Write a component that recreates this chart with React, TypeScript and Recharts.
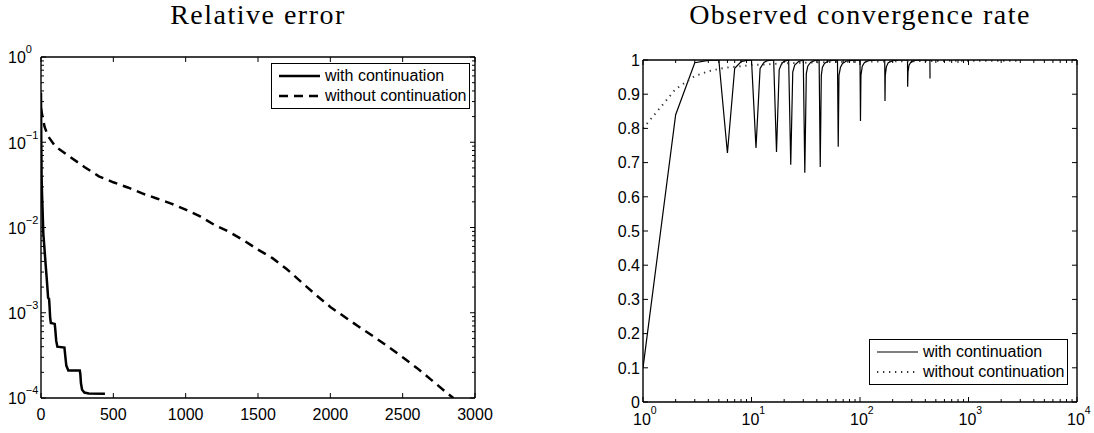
import React from 'react';
import { LineChart, Line, XAxis, YAxis, Legend } from 'recharts';

// left panel: relative error per iteration
const contIter = [0, 2, 4, 7, 10, 16, 22, 27, 33, 39, 44, 49, 56, 59, 63, 68, 95, 99, 105, 113, 162, 167, 175, 189, 268, 272, 276, 284, 300, 330, 442];
const contErr = [0.38, 0.1, 0.04, 0.025, 0.0178, 0.0085, 0.0063, 0.0048, 0.0035, 0.0026, 0.002, 0.0015, 0.00145, 0.0012, 0.00089, 0.00076, 0.00074, 0.00063, 0.00047, 0.0004, 0.00039, 0.00032, 0.00024, 0.00021, 0.00021, 0.00019, 0.00015, 0.000125, 0.000116, 0.000113, 0.000112];
const plainIter = [0, 10, 25, 50, 100, 200, 300, 400, 500, 600, 700, 800, 900, 1000, 1100, 1200, 1300, 1400, 1500, 1600, 1700, 1800, 1900, 2000, 2100, 2200, 2300, 2400, 2500, 2600, 2700, 2800, 2850];
const plainErr = [0.25, 0.2, 0.151, 0.117, 0.089, 0.0676, 0.0513, 0.0398, 0.0339, 0.0295, 0.0251, 0.0219, 0.0191, 0.0162, 0.0135, 0.0107, 0.0089, 0.0071, 0.0055, 0.00437, 0.00324, 0.00229, 0.00162, 0.00117, 0.00089, 0.00068, 0.000525, 0.0004, 0.0003, 0.000224, 0.000162, 0.000117, 0.0001];

// right panel: observed convergence rate (log x)
const rateK = [1, 2, 3, 4, 5, 6, 7, 8, 9, 10, 11, 12, 13, 14, 16, 17, 18, 19, 20, 22, 23, 24, 25, 27, 30, 31, 32, 33, 35, 38, 42, 43, 44, 45, 47, 51, 56, 62, 63, 64, 66, 69, 75, 85, 100, 101, 102, 105, 110, 120, 140, 169, 170, 171, 175, 182, 200, 230, 274, 275, 277, 283, 295, 320, 360, 441, 442];
const contRate = [0.1, 0.84, 0.992, 0.999, 1, 0.728, 0.976, 0.995, 0.999, 1, 0.743, 0.975, 0.993, 0.998, 1, 0.731, 0.972, 0.99, 0.996, 1, 0.694, 0.965, 0.985, 0.995, 1, 0.67, 0.96, 0.982, 0.993, 0.998, 1, 0.687, 0.955, 0.978, 0.99, 0.997, 0.999, 1, 0.746, 0.955, 0.978, 0.99, 0.997, 0.999, 1, 0.822, 0.955, 0.982, 0.993, 0.998, 1, 1, 0.88, 0.955, 0.98, 0.992, 0.998, 1, 1, 0.922, 0.965, 0.985, 0.994, 0.999, 1, 1, 0.946];
const plainK = [1, 2, 3, 4, 5, 6, 8, 10, 15, 20, 30, 50, 100, 200, 500, 1000, 2950];
const plainRate = [0.8, 0.915, 0.953, 0.967, 0.974, 0.978, 0.982, 0.985, 0.988, 0.99, 0.992, 0.994, 0.995, 0.996, 0.997, 0.998, 0.998];

const errXTicks = [0, 500, 1000, 1500, 2000, 2500, 3000];
const errYTicks = [1e-4, 1e-3, 1e-2, 1e-1, 1];
const rateXTicks = [1, 10, 100, 1000, 10000];
const rateYTicks = [0, 0.1, 0.2, 0.3, 0.4, 0.5, 0.6, 0.7, 0.8, 0.9, 1];

const seriesNames = ['with continuation', 'without continuation'];
const titles = ['Relative error', 'Observed convergence rate'];

const SANS = '"Liberation Sans", Arial, sans-serif';
const SERIF = '"Liberation Serif", "Times New Roman", serif';
const AXIS = { stroke: '#000', strokeWidth: 1.4 };

const contErrData = contIter.map((x, i) => ({ x, y: contErr[i] }));
const plainErrData = plainIter.map((x, i) => ({ x, y: plainErr[i] }));
const contRateData = rateK.map((x, i) => ({ x, y: contRate[i] }));
const plainRateData = plainK.map((x, i) => ({ x, y: plainRate[i] }));

// 1..9 x 10^e for each decade, used for minor ticks on log axes
const logTicks = (lo: number, hi: number) => {
  const out: number[] = [];
  for (let e = lo; e < hi; e++) for (let m = 1; m < 10; m++) out.push(m * 10 ** e);
  out.push(10 ** hi);
  return out;
};
const errYAll = logTicks(-4, 0);
const rateXAll = logTicks(0, 4);

const isMajor = (v: number, majors: number[]) =>
  majors.some((m) => Math.abs(m - v) <= Math.abs(m) * 1e-6);

type Side = 'bottom' | 'top' | 'left' | 'right';
type LabelFn = (v: number, x: number, y: number) => React.ReactNode;

const textProps = { fill: '#000', fontFamily: SANS, fontSize: 16 };
const expOf = (v: number) => {
  const e = Math.round(Math.log10(v));
  return e < 0 ? `\u2212${-e}` : `${e}`;
};

const bottomLinear: LabelFn = (v, x, y) => (
  <text x={x} y={y + 21.5} textAnchor="middle" {...textProps}>{v}</text>
);
const leftLog: LabelFn = (v, x, y) => (
  <text x={x - 33} y={y + 6.3} {...textProps}>
    10<tspan dy={-10} fontSize={11}>{expOf(v)}</tspan>
  </text>
);
const bottomLog: LabelFn = (v, x, y) => (
  <text x={x - 10} y={y + 23} {...textProps}>
    10<tspan dy={-11.5} fontSize={10.5}>{expOf(v)}</tspan>
  </text>
);
const leftLinear: LabelFn = (v, x, y) => (
  <text x={x - 3} y={y + 5.8} textAnchor="end" {...textProps}>{String(v)}</text>
);

function renderTick(side: Side, majors: number[], label?: LabelFn) {
  return (props: any) => {
    const { x, y, payload } = props;
    const v = payload.value;
    const major = isMajor(v, majors);
    const len = major ? 5 : 3;
    let x2 = x;
    let y2 = y;
    if (side === 'bottom') y2 = y - len;
    if (side === 'top') y2 = y + len;
    if (side === 'left') x2 = x + len;
    if (side === 'right') x2 = x - len;
    return (
      <g>
        <line x1={x} y1={y} x2={x2} y2={y2} stroke="#000" strokeWidth={1} />
        {major && label ? label(v, x, y) : null}
      </g>
    );
  };
}

type Sample = { width: number; dash?: string; color: string };
function legendContent(samples: Sample[]) {
  return ({ payload }: any) => (
    <div
      style={{
        border: '1px solid #000',
        background: '#fff',
        padding: '2px 3px 2px 7px',
        fontFamily: SANS,
        fontSize: 16,
        lineHeight: '20px',
        color: '#000',
        display: 'inline-block',
      }}
    >
      {(payload || []).map((e: any, i: number) => (
        <div key={e.value} style={{ display: 'flex', alignItems: 'center', whiteSpace: 'nowrap' }}>
          <svg width={41} height={10} style={{ marginRight: 5 }}>
            <line x1={0} y1={5} x2={41} y2={5} stroke={samples[i].color} strokeWidth={samples[i].width} strokeDasharray={samples[i].dash} />
          </svg>
          {e.value}
        </div>
      ))}
    </div>
  );
}

const DOTTED = { width: 1.9, dash: '1.3 4.7', color: '#333' };
const errSamples: Sample[] = [
  { width: 2.5, color: '#000' },
  { width: 2.5, dash: '9 6', color: '#000' },
];
const rateSamples: Sample[] = [{ width: 1.2, color: '#000' }, DOTTED];

// shared props for the thin (1px) axes; tick drawing is done by renderTick
const axisBase = { tickSize: 0, tickMargin: 0, axisLine: AXIS, tickLine: false, interval: 0 as const, allowDataOverflow: true };

export default function App() {
  return (
    <div style={{ position: 'absolute', left: 0, top: 0, width: 1094, height: 433, background: '#fff' }}>
      <svg width={1094} height={40} style={{ position: 'absolute', left: 0, top: 0 }}>
        <text x={258} y={24} textAnchor="middle" fontFamily={SERIF} fontSize={28} letterSpacing={1.5} fill="#000">{titles[0]}</text>
        <text x={860} y={24} textAnchor="middle" fontFamily={SERIF} fontSize={28} letterSpacing={1.5} fill="#000">{titles[1]}</text>
      </svg>

      <div style={{ position: 'absolute', left: 0, top: 0 }}>
        <LineChart width={530} height={433} margin={{ top: 56, right: 54, bottom: 34, left: 40 }}>
          <XAxis xAxisId="b" type="number" dataKey="x" domain={[0, 3000]} ticks={errXTicks} height={1}
            {...axisBase} tick={renderTick('bottom', errXTicks, bottomLinear)} />
          <XAxis xAxisId="t" orientation="top" type="number" dataKey="x" domain={[0, 3000]} ticks={errXTicks} height={1}
            {...axisBase} tick={renderTick('top', errXTicks)} />
          <YAxis yAxisId="l" type="number" scale="log" domain={[1e-4, 1]} ticks={errYAll} width={1}
            {...axisBase} tick={renderTick('left', errYTicks, leftLog)} />
          <YAxis yAxisId="r" orientation="right" type="number" scale="log" domain={[1e-4, 1]} ticks={errYAll} width={1}
            {...axisBase} tick={renderTick('right', errYTicks)} />
          <Line xAxisId="b" yAxisId="l" data={contErrData} dataKey="y" name={seriesNames[0]} type="linear"
            stroke="#000" strokeWidth={2.5} dot={false} activeDot={false} isAnimationActive={false} />
          <Line xAxisId="b" yAxisId="l" data={plainErrData} dataKey="y" name={seriesNames[1]} type="linear"
            stroke="#000" strokeWidth={2.5} strokeDasharray="9 6" dot={false} activeDot={false} isAnimationActive={false} />
          <Legend layout="horizontal" verticalAlign="middle" align="center" content={legendContent(errSamples)}
            wrapperStyle={{ left: 271, top: 63, width: 'auto', height: 'auto' }} />
        </LineChart>
      </div>

      <div style={{ position: 'absolute', left: 530, top: 0 }}>
        <LineChart width={564} height={433} margin={{ top: 59, right: 16, bottom: 30, left: 112 }}>
          <XAxis xAxisId="b" type="number" scale="log" dataKey="x" domain={[1, 10000]} ticks={rateXAll} height={1}
            {...axisBase} tick={renderTick('bottom', rateXTicks, bottomLog)} />
          <XAxis xAxisId="t" orientation="top" type="number" scale="log" dataKey="x" domain={[1, 10000]} ticks={rateXAll} height={1}
            {...axisBase} tick={renderTick('top', rateXTicks)} />
          <YAxis yAxisId="l" type="number" domain={[0, 1]} ticks={rateYTicks} width={1}
            {...axisBase} tick={renderTick('left', rateYTicks, leftLinear)} />
          <YAxis yAxisId="r" orientation="right" type="number" domain={[0, 1]} ticks={rateYTicks} width={1}
            {...axisBase} tick={renderTick('right', rateYTicks)} />
          <Line xAxisId="b" yAxisId="l" data={contRateData} dataKey="y" name={seriesNames[0]} type="linear"
            stroke="#000" strokeWidth={1.2} dot={false} activeDot={false} isAnimationActive={false} />
          <Line xAxisId="b" yAxisId="l" data={plainRateData} dataKey="y" name={seriesNames[1]} type="linear"
            stroke={DOTTED.color} strokeWidth={DOTTED.width} strokeDasharray={DOTTED.dash} dot={false} activeDot={false} isAnimationActive={false} />
          <Legend layout="horizontal" verticalAlign="middle" align="center" content={legendContent(rateSamples)}
            wrapperStyle={{ left: 339, top: 339, width: 'auto', height: 'auto' }} />
        </LineChart>
      </div>
    </div>
  );
}
